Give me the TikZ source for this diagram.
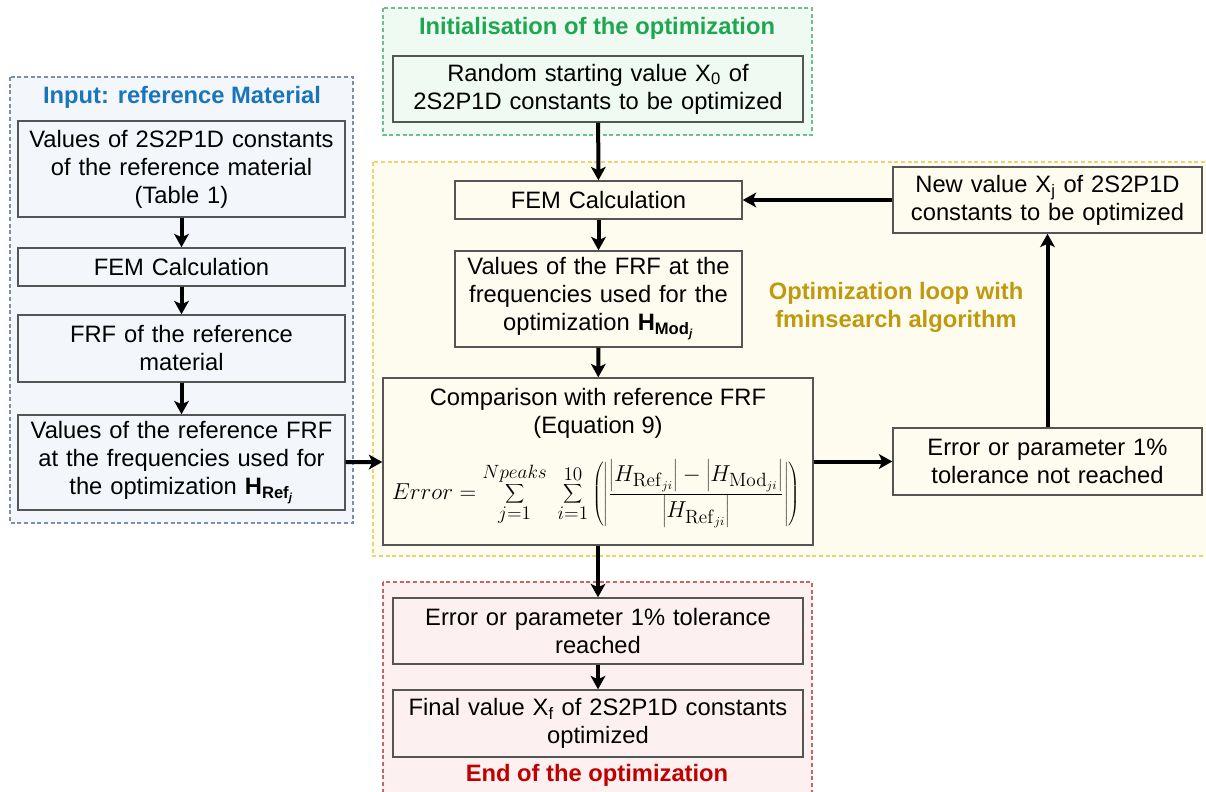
\documentclass[tikz,border=0pt]{standalone}
\usepackage[no-math]{fontspec}
\setmainfont{Liberation Sans}
\usetikzlibrary{arrows.meta}
\definecolor{bluet}{HTML}{1B75BB}
\definecolor{greent}{HTML}{1FA650}
\definecolor{goldt}{HTML}{BF9A10}
\definecolor{redt}{HTML}{C00000}
\definecolor{bluef}{HTML}{F3F7FC}
\definecolor{greenf}{HTML}{EFFAF3}
\definecolor{yelf}{HTML}{FEFCEF}
\definecolor{redf}{HTML}{FDF0F0}
\definecolor{bluel}{HTML}{7C8FA8}
\definecolor{greenl}{HTML}{6CC08C}
\definecolor{yell}{HTML}{EED36A}
\definecolor{redl}{HTML}{C86464}
\definecolor{boxl}{HTML}{555555}
\begin{document}
\begin{tikzpicture}[x=0.75pt,y=-0.75pt,
  font=\fontsize{17.8}{21}\selectfont,
  box/.style={draw=boxl,line width=1.1pt,inner sep=0pt,align=center},
  sz/.style 2 args={minimum width=#1*0.75pt,minimum height=#2*0.75pt,text width=#1*0.75pt-6pt},
  grp/.style={dashed,line width=0.8pt,dash pattern=on 3pt off 2pt},
  ttl/.style={font=\fontsize{17.8}{21}\selectfont\bfseries,align=center},
  arr/.style={line width=3pt,-{Stealth[length=10pt,width=11pt,inset=2.5pt]}}]
\useasboundingbox (0,0) rectangle (1206,792);
\clip (0,0) rectangle (1206,792);
\fill[white] (0,0) rectangle (1206,792);
% groups
\draw[grp,draw=bluel,fill=bluef] (10,77) rectangle (353,523);
\draw[grp,draw=greenl,fill=greenf] (383,8) rectangle (812,135);
\draw[grp,draw=yell,fill=yelf] (373,162) rectangle (1215,556);
\draw[grp,draw=redl,fill=redf] (383,582) rectangle (812,800);
% titles
\node[ttl,text=bluet] (tin) at (182,97) {Input: reference Material};
\node[ttl,text=greent] (tinit) at (597,28) {Initialisation of the optimization};
\node[ttl,text=goldt] (tloop) at (896,307) {Optimization loop with\\fminsearch algorithm};
\node[ttl,text=redt] (tend) at (597,775) {End of the optimization};
% left
\node[box,fill=bluef,sz={327}{96}] (L1) at (181.5,169) {Values of 2S2P1D constants\\of the reference material\\(Table 1)};
\node[box,fill=bluef,sz={327}{38}] (L2) at (181.5,267) {FEM Calculation};
\node[box,fill=bluef,sz={327}{67}] (L3) at (181.5,348.5) {FRF of the reference\\material};
\node[box,fill=bluef,sz={327}{95}] (L4) at (181.5,462.5) {Values of the reference FRF\\at the frequencies used for\\the optimization \textbf{H}\textsubscript{\textbf{Ref}\textsubscript{\textbf{\textit{j}}}}};
% top
\node[box,fill=greenf,sz={410}{66}] (T) at (598,89) {Random starting value X\textsubscript{0} of\\2S2P1D constants to be optimized};
% loop
\node[box,fill=yelf,sz={287}{38}] (F) at (598.5,200) {FEM Calculation};
\node[box,fill=yelf,sz={287}{96}] (V) at (598.5,299) {Values of the FRF at the\\frequencies used for the\\optimization \textbf{H}\textsubscript{\textbf{Mod}\textsubscript{\textbf{\textit{j}}}}};
\node[box,fill=yelf,sz={430}{167}] (C) at (598,461.5) {};
\node (Ct) at (598,413) [align=center] {Comparison with reference FRF\\(Equation 9)};
\node (Cf) at (596,494) {\fontsize{19}{22}\selectfont$\displaystyle Error = \sum_{j=1}^{Npeaks}\ \sum_{i=1}^{10}\left(\left|\frac{\left|H_{\mathrm{Ref}_{ji}}\right| - \left|H_{\mathrm{Mod}_{ji}}\right|}{\left|H_{\mathrm{Ref}_{ji}}\right|}\right|\right)$};
\node[box,fill=yelf,sz={309}{66}] (N) at (1047.5,200) {New value X\textsubscript{j} of 2S2P1D\\constants to be optimized};
\node[box,fill=yelf,sz={309}{67}] (E) at (1047.5,461.5) {Error or parameter 1\%\\tolerance not reached};
% bottom
\node[box,fill=redf,sz={410}{66}] (R) at (598,631) {Error or parameter 1\% tolerance\\reached};
\node[box,fill=redf,sz={410}{67}] (Fn) at (598,723.5) {Final value X\textsubscript{f} of 2S2P1D constants\\optimized};
% arrows
\draw[arr] (L1) -- (L2);
\draw[arr] (L2) -- (L3);
\draw[arr] (L3) -- (L4);
\draw[arr] (L4) -- (C);
\draw[arr] (T) -- (F);
\draw[arr] (F) -- (V);
\draw[arr] (V) -- (C);
\draw[arr] (C) -- (R);
\draw[arr] (R) -- (Fn);
\draw[arr] (C) -- (E);
\draw[arr] (E) -- (N);
\draw[arr] (N) -- (F);
\end{tikzpicture}
\end{document}
